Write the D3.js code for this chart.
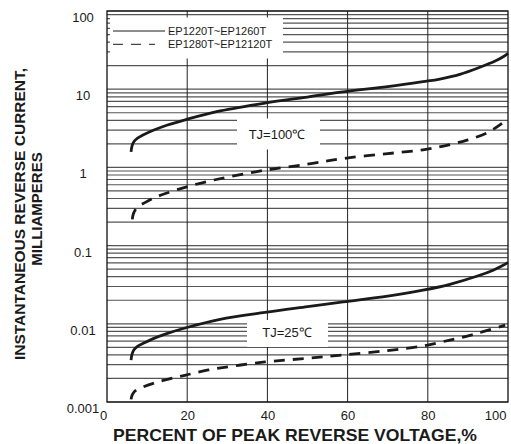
<!DOCTYPE html>
<html>
<head>
<meta charset="utf-8">
<script src="https://cdn.jsdelivr.net/npm/d3@7"></script>
<style>
    body { margin: 0; background: #fff; }
    svg text { font-family: "Liberation Sans", Arial, sans-serif; fill: #1a1a1a; }
</style>
</head>
<body>
<svg id="gfx" width="511" height="444"></svg>
<script>
const xTicks = [0, 20, 40, 60, 80, 100];
const yTicks = [0.001, 0.01, 0.1, 1, 10, 100];
const yTickLabels = ["0.001", "0.01", "0.1", "1", "10", "100"];
const legendNames = ["EP1220T~EP1260T", "EP1280T~EP12120T"];
const tempLabels = ["TJ=100\u2103", "TJ=25\u2103"];

// TJ=100C, EP1220T~EP1260T (solid)
const hotSolidPct = [6.0, 6.23, 6.73, 7.61, 8.98, 11.55, 14.9, 19.7, 28.2, 39.4, 50, 58.9, 70, 78.8, 83.0, 88.0, 93.0, 96.8, 98.8, 100];
const hotSolidMa = [1.58, 1.87, 2.14, 2.37, 2.59, 2.98, 3.46, 4.09, 5.27, 6.65, 7.94, 9.22, 10.8, 12.5, 13.5, 15.5, 19.1, 22.9, 26.0, 28.8];

// TJ=100C, EP1280T~EP12120T (dashed)
const hotDashPct = [6.31, 6.56, 7.11, 7.98, 9.05, 11.15, 14.04, 19.03, 24.44, 30, 39.4, 50, 58.9, 70, 78.8, 85.0, 90.0, 95.0, 98.5];
const hotDashMa = [0.216, 0.254, 0.289, 0.321, 0.345, 0.394, 0.453, 0.548, 0.650, 0.75, 0.92, 1.10, 1.30, 1.50, 1.68, 1.93, 2.25, 2.80, 3.65];

// TJ=25C, EP1220T~EP1260T (solid)
const coldSolidPct = [6.0, 6.23, 6.73, 7.61, 9.05, 11.55, 14.9, 19.7, 28.2, 39.4, 50, 58.9, 70, 78.8, 85.5, 92.2, 96.3, 98.8, 100];
const coldSolidMa = [0.00344, 0.00407, 0.00465, 0.00516, 0.00563, 0.00647, 0.0075, 0.0089, 0.0114, 0.0140, 0.0166, 0.0191, 0.0226, 0.0269, 0.0320, 0.0405, 0.0485, 0.0560, 0.061];

// TJ=25C, EP1280T~EP12120T (dashed)
const coldDashPct = [6.0, 6.23, 6.73, 7.61, 9.05, 11.55, 14.04, 16.96, 19.7, 25.3, 39.4, 50, 58.9, 70, 78.8, 85.5, 90.5, 94.0, 99.3];
const coldDashMa = [0.00108, 0.00121, 0.00134, 0.00145, 0.00156, 0.00173, 0.00189, 0.00206, 0.00221, 0.00257, 0.00325, 0.00362, 0.0040, 0.00455, 0.0052, 0.0062, 0.0071, 0.0080, 0.0096];

const svg = d3.select("#gfx");

const x = d3.scaleLinear().domain([0, 100]).range([107, 508]);
const y = d3.scaleLog().domain([0.001, 100]).range([402, 11]);

// Log grid, every 1..9 of each decade
svg.append("g").attr("class", "hgrid")
    .selectAll("line")
    .data(y.ticks())
    .join("line")
    .attr("x1", x(0)).attr("x2", x(100))
    .attr("y1", d => y(d)).attr("y2", d => y(d))
    .attr("stroke", "#555")
    .attr("stroke-width", 1.2);

svg.append("g").attr("class", "vgrid")
    .selectAll("line")
    .data(xTicks.slice(1, -1))
    .join("line")
    .attr("x1", d => x(d)).attr("x2", d => x(d))
    .attr("y1", y(100)).attr("y2", y(0.001))
    .attr("stroke", "#222")
    .attr("stroke-width", 1);

// White patches behind legend and temperature labels
const patches = [
    [110, 17.5, 173, 41],
    [237, 118.5, 83, 31],
    [247, 320, 81, 27]
];
svg.append("g").selectAll("rect")
    .data(patches)
    .join("rect")
    .attr("x", d => d[0]).attr("y", d => d[1])
    .attr("width", d => d[2]).attr("height", d => d[3])
    .attr("fill", "#fff");

svg.append("rect")
    .attr("x", x(0)).attr("y", y(100))
    .attr("width", x(100) - x(0)).attr("height", y(0.001) - y(100))
    .attr("fill", "none")
    .attr("stroke", "#111")
    .attr("stroke-width", 1.3);

// Curves
const line = d3.line()
    .x(d => x(d[0]))
    .y(d => y(d[1]))
    .curve(d3.curveCatmullRom.alpha(0.5));

const curves = [
    { pct: hotSolidPct, ma: hotSolidMa, dash: null },
    { pct: hotDashPct, ma: hotDashMa, dash: "11,8" },
    { pct: coldSolidPct, ma: coldSolidMa, dash: null },
    { pct: coldDashPct, ma: coldDashMa, dash: "11,8" }
];

svg.append("g").attr("class", "curves")
    .selectAll("path")
    .data(curves)
    .join("path")
    .attr("d", c => line(d3.zip(c.pct, c.ma)))
    .attr("fill", "none")
    .attr("stroke", "#1a1a1a")
    .attr("stroke-width", 2.8)
    .attr("stroke-dasharray", c => c.dash);

// Axes
const xAxis = svg.append("g")
    .attr("transform", "translate(0," + y(0.001) + ")")
    .call(d3.axisBottom(x).tickValues(xTicks).tickSize(0).tickFormat(d3.format("d")));
xAxis.select(".domain").remove();
xAxis.selectAll("text")
    .attr("y", 0)
    .attr("dy", 18)
    .attr("font-size", 13)
    .attr("font-family", "Liberation Sans, Arial, sans-serif")
    .attr("fill", "#1a1a1a");
xAxis.selectAll("text").filter(d => d === 0).attr("dx", -4);
xAxis.selectAll("text").filter(d => d === 100).attr("text-anchor", "end").attr("dx", -2);

const yAxis = svg.append("g")
    .attr("transform", "translate(83,0)")
    .call(d3.axisLeft(y).tickValues(yTicks).tickSize(0).tickPadding(0)
        .tickFormat((d, i) => yTickLabels[i]));
yAxis.select(".domain").remove();
yAxis.selectAll("text")
    .attr("text-anchor", "middle")
    .attr("x", 0)
    .attr("y", 6)
    .attr("dy", "0.35em")
    .attr("font-size", 13)
    .attr("font-family", "Liberation Sans, Arial, sans-serif")
    .attr("fill", "#1a1a1a");

// Legend
const legend = svg.append("g").attr("class", "legend");
legendNames.forEach((name, i) => {
    const ly = 31 + i * 13.3;
    legend.append("line")
        .attr("x1", 113).attr("x2", i ? 155 : 165)
        .attr("y1", ly).attr("y2", ly)
        .attr("stroke", "#1a1a1a")
        .attr("stroke-width", 1)
        .attr("stroke-dasharray", i ? "10,8" : null);
    legend.append("text")
        .attr("x", 168).attr("y", ly)
        .attr("dy", "0.35em")
        .attr("font-size", 11)
        .text(name);
});

// Temperature labels
svg.append("text")
    .attr("x", 277).attr("y", 134).attr("dy", "0.35em")
    .attr("text-anchor", "middle").attr("font-size", 13)
    .text(tempLabels[0]);
svg.append("text")
    .attr("x", 287).attr("y", 332).attr("dy", "0.35em")
    .attr("text-anchor", "middle").attr("font-size", 13)
    .text(tempLabels[1]);

// Axis titles
svg.append("text")
    .attr("x", 295).attr("y", 435).attr("dy", "0.35em")
    .attr("text-anchor", "middle")
    .attr("font-size", 16.5)
    .attr("font-weight", "bold")
    .attr("textLength", 364)
    .attr("lengthAdjust", "spacingAndGlyphs")
    .text("PERCENT OF PEAK REVERSE VOLTAGE,%");

svg.append("text")
    .attr("transform", "translate(20,214) rotate(-90)")
    .attr("dy", "0.35em")
    .attr("text-anchor", "middle")
    .attr("font-size", 15.5)
    .attr("font-weight", "bold")
    .text("INSTANTANEOUS REVERSE CURRENT,");
svg.append("text")
    .attr("transform", "translate(37,209) rotate(-90)")
    .attr("dy", "0.35em")
    .attr("text-anchor", "middle")
    .attr("font-size", 15)
    .attr("font-weight", "bold")
    .text("MILLIAMPERES");
</script>
</body>
</html>
